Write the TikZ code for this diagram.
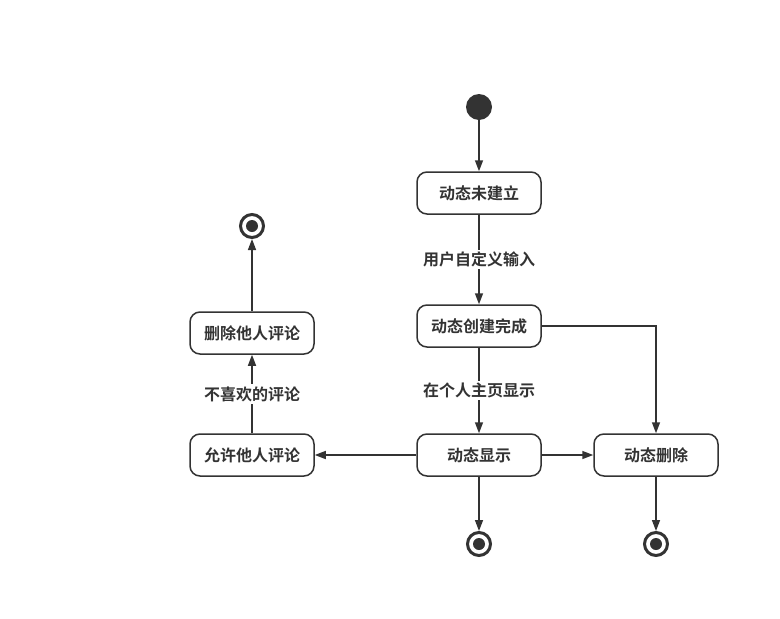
\documentclass[tikz,border=0pt]{standalone}
\usepackage{fontspec}
\newfontfamily\cjk{Noto Sans CJK SC}[BoldFont={Noto Sans CJK SC Bold}]
\usetikzlibrary{arrows.meta}
\definecolor{ink}{HTML}{333333}
\begin{document}
\begin{tikzpicture}[x=1pt,y=-1pt,
  state/.style={draw=ink,line width=1.5pt,rounded corners=10pt,minimum width=124pt,minimum height=42pt,fill=white,text=ink,font=\cjk\bfseries\fontsize{16}{18}\selectfont,inner sep=0pt},
  lbl/.style={fill=white,text=ink,font=\cjk\bfseries\fontsize{16}{18}\selectfont,inner sep=2pt},
  conn/.style={draw=ink,line width=1.5pt,-{Triangle[length=11pt,width=8pt]}},
  startst/.style={circle,fill=ink,minimum size=26pt,inner sep=0pt},
  endst/.style={circle,draw=ink,line width=3pt,fill=white,minimum size=23pt,inner sep=0pt,
    path picture={\fill[ink] (path picture bounding box.center) circle (6pt);}}
]
\useasboundingbox (0,0) rectangle (780,619);
\node[startst] (s) at (479,107) {};
\node[state] (a) at (479,193) {动态未建立};
\node[state] (b) at (479,326) {动态创建完成};
\node[state] (c) at (479,455) {动态显示};
\node[state] (d) at (656,455) {动态删除};
\node[state] (e) at (252,455) {允许他人评论};
\node[state] (f) at (252,333) {删除他人评论};
\node[endst] (ec) at (479,544) {};
\node[endst] (ed) at (656,544) {};
\node[endst] (ef) at (252,226) {};
\draw[conn] (s) -- (a);
\draw[conn] (a) -- node[lbl] {用户自定义输入} (b);
\draw[conn] (b) -- node[lbl] {在个人主页显示} (c);
\draw[conn] (b.east) -| (d.north);
\draw[conn] (c) -- (d);
\draw[conn] (c) -- (e);
\draw[conn] (e) -- node[lbl] {不喜欢的评论} (f);
\draw[conn] (f) -- (ef);
\draw[conn] (c) -- (ec);
\draw[conn] (d) -- (ed);
\end{tikzpicture}
\end{document}
